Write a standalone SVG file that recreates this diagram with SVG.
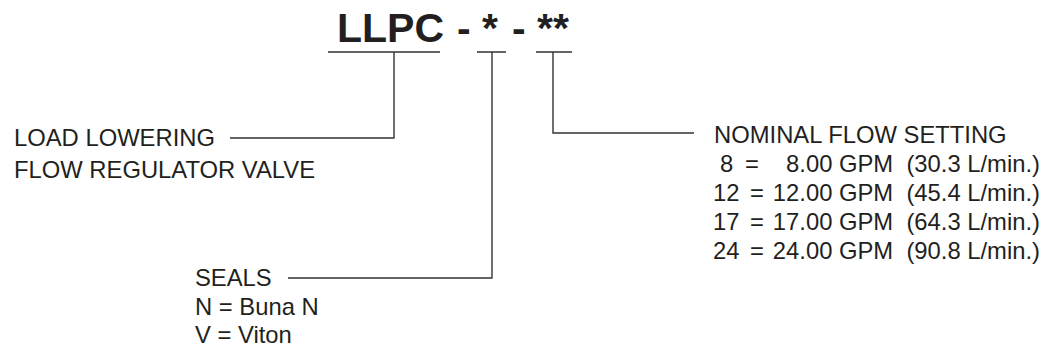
<svg xmlns="http://www.w3.org/2000/svg" width="1049" height="350" viewBox="0 0 1049 350">
<style>
.t{font-family:"Liberation Sans",Arial,Helvetica,sans-serif;font-size:23.8px;fill:#231f20;white-space:pre}
.b{font-family:"Liberation Sans",Arial,Helvetica,sans-serif;font-size:41px;font-weight:bold;fill:#231f20}
.c{stroke:#333;stroke-width:1.4;fill:none}
</style>
<rect width="1049" height="350" fill="#fff"/>
<g id="title">
<text class="b" y="42"><tspan x="337">LLPC</tspan><tspan x="457">-</tspan><tspan x="482">*</tspan><tspan x="512">-</tspan><tspan x="537">**</tspan></text>
</g>
<g id="connectors">
<path class="c" d="M328 52H440M394 52V138H230"/>
<path class="c" d="M477 52H506M492 52V278H288"/>
<path class="c" d="M536 52H572M553 52V133H694"/>
</g>
<g id="node-valve">
<text class="t" x="14" y="146">LOAD LOWERING</text>
<text class="t" x="14" y="178">FLOW REGULATOR VALVE</text>
</g>
<g id="node-seals">
<text class="t" x="195" y="286">SEALS</text>
<text class="t" x="195" y="315">N = Buna N</text>
<text class="t" x="195" y="343">V = Viton</text>
</g>
<g id="node-flow">
<text class="t" x="714" y="143">NOMINAL FLOW SETTING</text>
<text class="t" y="172"><tspan x="720">8</tspan><tspan x="745">=</tspan></text>
<text class="t" x="1040" y="172" text-anchor="end" xml:space="preserve">8.00 GPM  (30.3 L/min.)</text>
<text class="t" y="201"><tspan x="713">12</tspan><tspan x="750">=</tspan></text>
<text class="t" x="1040" y="201" text-anchor="end" xml:space="preserve">12.00 GPM  (45.4 L/min.)</text>
<text class="t" y="230"><tspan x="713">17</tspan><tspan x="750">=</tspan></text>
<text class="t" x="1040" y="230" text-anchor="end" xml:space="preserve">17.00 GPM  (64.3 L/min.)</text>
<text class="t" y="259"><tspan x="713">24</tspan><tspan x="750">=</tspan></text>
<text class="t" x="1040" y="259" text-anchor="end" xml:space="preserve">24.00 GPM  (90.8 L/min.)</text>
</g>
</svg>
